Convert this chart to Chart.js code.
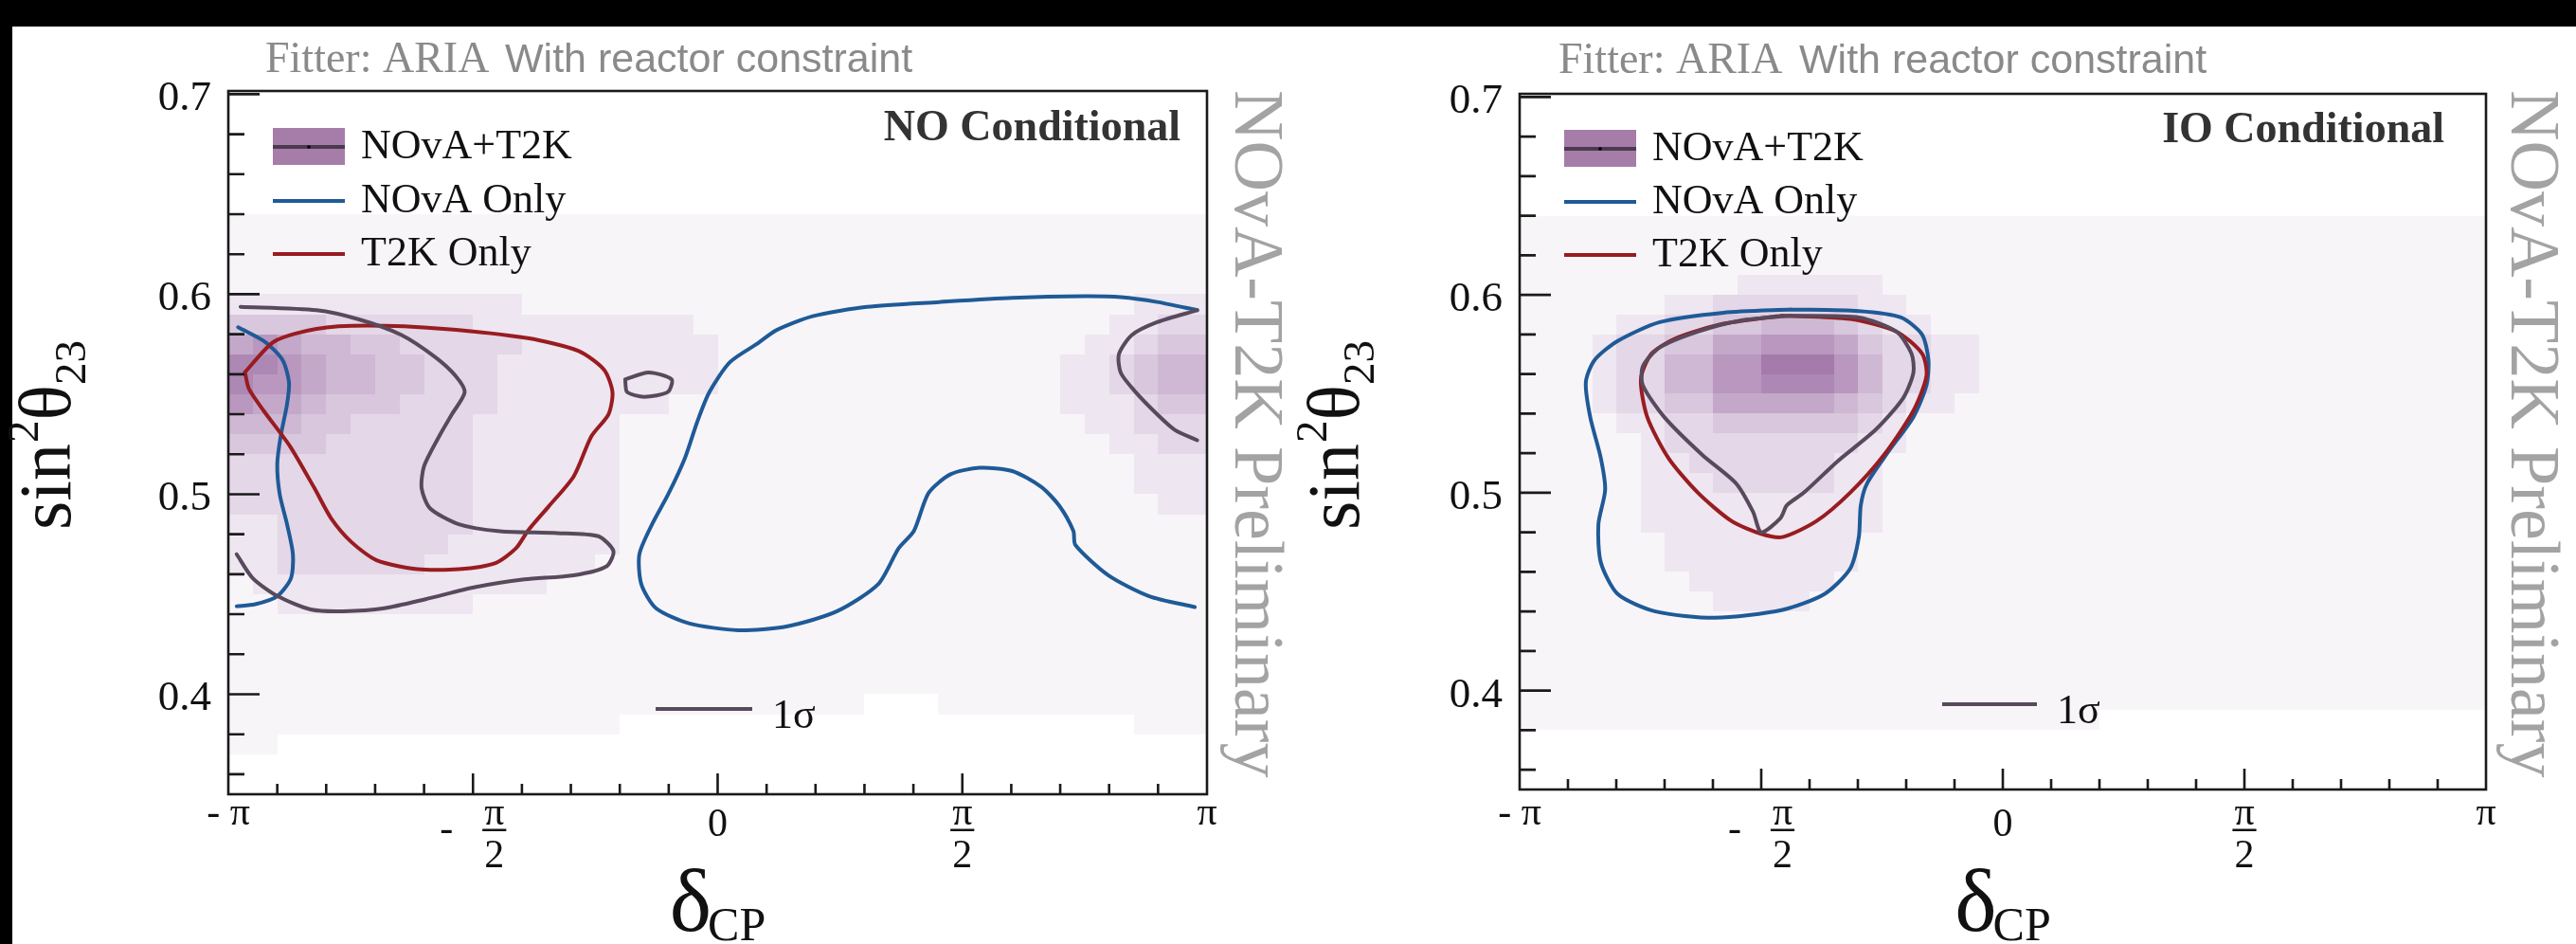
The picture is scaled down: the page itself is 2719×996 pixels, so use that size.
<!DOCTYPE html>
<html>
<head>
<meta charset="utf-8">
<script src="https://cdn.jsdelivr.net/npm/chart.js@4.4.1/dist/chart.umd.min.js"></script>
<style>
  html, body { margin: 0; padding: 0; background: #000; }
  #page { position: relative; width: 2719px; height: 996px; overflow: hidden; background: #000; }
  #paper { position: absolute; left: 13px; top: 28px; width: 2706px; height: 968px; background: #fff; }
  canvas { position: absolute; top: 0; }
  #noChart { left: 0; }
  #ioChart { left: 1360px; }
</style>
</head>
<body>
<div id="page">
  <div id="paper"></div>
  <canvas id="noChart" width="1360" height="996"></canvas>
  <canvas id="ioChart" width="1359" height="996"></canvas>
</div>
<script>
// --- Data ---
// x = delta_CP in units of pi, y = sin^2(theta_23)

const xTickValues = [-1, -0.5, 0, 0.5, 1];
const xTickLabels = ['- π', '- π/2', '0', 'π/2', 'π'];
const xMinorTicks = [-0.9, -0.8, -0.7, -0.6, -0.4, -0.3, -0.2, -0.1, 0.1, 0.2, 0.3, 0.4, 0.6, 0.7, 0.8, 0.9];
const yTickValues = [0.4, 0.5, 0.6, 0.7];
const yTickLabels = ['0.4', '0.5', '0.6', '0.7'];
const yMinorTicks = [0.36, 0.38, 0.42, 0.44, 0.46, 0.48, 0.52, 0.54, 0.56, 0.58, 0.62, 0.64, 0.66, 0.68];

const legendLabels = ['NOvA+T2K', 'NOvA Only', 'T2K Only'];
const sigmaLabel = '1σ';
const panelTitles = ['NO Conditional', 'IO Conditional'];

// posterior heat map: 40 bins of 0.05π across, rows of 0.01 from 0.70 down to 0.35
// each row is run-length coded as [shade level, number of bins]
const heatX0 = -1, heatDX = 0.05, heatCols = 40;
const heatY0 = 0.70, heatDY = 0.01;

const noHeatRows = [
  [[0,40]], [[0,40]], [[0,40]], [[0,40]], [[0,40]], [[0,40]],
  [[1,40]], [[1,40]], [[1,40]], [[1,40]],
  [[2,12],[1,25],[2,3]],
  [[4,4],[3,6],[2,9],[1,17],[2,2],[3,2]],
  [[6,1],[7,1],[6,1],[5,2],[4,2],[3,5],[2,8],[1,15],[2,2],[3,1],[4,2]],
  [[8,2],[7,1],[6,1],[5,2],[4,2],[3,3],[2,9],[1,14],[2,2],[3,1],[4,1],[5,2]],
  [[8,1],[7,2],[6,1],[5,2],[4,2],[3,3],[2,9],[1,14],[2,2],[3,1],[4,1],[5,2]],
  [[7,1],[6,2],[5,1],[4,3],[3,4],[2,7],[1,16],[2,3],[3,1],[4,2]],
  [[5,3],[4,2],[3,5],[2,6],[1,19],[2,2],[3,3]],
  [[4,4],[3,6],[2,6],[1,20],[2,2],[3,2]],
  [[3,10],[2,6],[1,21],[2,3]],
  [[3,10],[2,6],[1,21],[2,3]],
  [[3,10],[2,6],[1,22],[2,2]],
  [[2,2],[3,8],[2,6],[1,24]],
  [[2,2],[3,7],[2,7],[1,24]],
  [[2,2],[3,6],[2,7],[1,25]],
  [[1,1],[2,12],[1,27]],
  [[1,2],[2,8],[1,30]],
  [[1,40]], [[1,40]], [[1,40]], [[1,40]],
  [[1,26],[0,3],[1,11]],
  [[1,16],[0,21],[1,3]],
  [[1,2],[0,38]],
  [[0,40]], [[0,40]]
];

const ioHeatRows = [
  [[0,40]], [[0,40]], [[0,40]], [[0,40]], [[0,40]], [[0,40]],
  [[1,40]], [[1,40]], [[1,40]],
  [[1,9],[2,6],[1,25]],
  [[1,6],[2,2],[3,6],[2,2],[1,24]],
  [[1,4],[2,2],[3,2],[4,2],[5,3],[4,1],[3,1],[2,2],[1,23]],
  [[1,3],[2,1],[3,2],[4,2],[6,2],[7,3],[6,1],[4,1],[3,2],[2,2],[1,21]],
  [[1,3],[2,1],[3,2],[5,2],[7,2],[9,3],[7,1],[5,1],[3,2],[2,2],[1,21]],
  [[1,3],[2,1],[3,2],[5,2],[7,2],[8,3],[7,1],[5,1],[3,2],[2,2],[1,21]],
  [[1,3],[2,1],[3,2],[4,2],[6,5],[5,1],[4,1],[3,1],[2,2],[1,22]],
  [[1,4],[2,2],[3,2],[4,6],[3,1],[2,1],[1,24]],
  [[1,5],[2,1],[3,8],[2,2],[1,24]],
  [[1,5],[2,2],[3,6],[2,2],[1,25]],
  [[1,5],[2,3],[3,5],[2,2],[1,25]],
  [[1,5],[2,10],[1,25]],
  [[1,5],[2,10],[1,25]],
  [[1,6],[2,8],[1,26]],
  [[1,6],[2,8],[1,26]],
  [[1,7],[2,6],[1,27]],
  [[1,8],[2,4],[1,28]],
  [[1,40]], [[1,40]], [[1,40]], [[1,40]], [[1,40]],
  [[1,24],[0,16]],
  [[0,40]], [[0,40]], [[0,40]]
];

// NO conditional: 1 sigma contours
const noNovaLeft = [[-0.98,0.5835],[-0.924,0.576],[-0.889,0.567],[-0.876,0.556],[-0.88,0.545],[-0.893,0.529],
  [-0.9,0.515],[-0.895,0.5],[-0.88,0.485],[-0.868,0.47],[-0.872,0.458],[-0.9,0.449],[-0.945,0.445],[-0.983,0.444]];
const noNovaRight = [[0.98,0.592],[0.898,0.5961],[0.824,0.5985],[0.75,0.599],[0.602,0.5982],[0.453,0.5961],
  [0.305,0.5937],[0.194,0.589],[0.119,0.5819],[0.083,0.5756],[0.025,0.566],[-0.017,0.551],[-0.042,0.536],
  [-0.067,0.518],[-0.101,0.5],[-0.134,0.485],[-0.16,0.47],[-0.156,0.455],[-0.126,0.443],[-0.059,0.4355],
  [0.042,0.432],[0.143,0.434],[0.244,0.4415],[0.328,0.455],[0.37,0.473],[0.401,0.4816],[0.431,0.5006],
  [0.476,0.51],[0.535,0.5132],[0.602,0.5116],[0.661,0.5037],[0.698,0.4943],[0.727,0.4816],[0.731,0.4746],
  [0.798,0.4595],[0.882,0.449],[0.975,0.4436]];
const noT2K = [[-0.966,0.561],[-0.906,0.5764],[-0.82,0.5827],[-0.716,0.5843],[-0.56,0.5827],[-0.388,0.578],
  [-0.284,0.5716],[-0.232,0.5622],[-0.215,0.5511],[-0.223,0.54],[-0.258,0.529],[-0.294,0.509],[-0.345,0.494],
  [-0.387,0.482],[-0.412,0.473],[-0.454,0.4656],[-0.529,0.4625],[-0.613,0.4625],[-0.697,0.467],[-0.748,0.476],
  [-0.79,0.488],[-0.824,0.503],[-0.874,0.524],[-0.928,0.5418],[-0.958,0.5527],[-0.966,0.561]];
const noJointLeft = [[-0.975,0.5937],[-0.82,0.592],[-0.733,0.5874],[-0.647,0.5797],[-0.577,0.5685],[-0.535,0.559],
  [-0.517,0.551],[-0.543,0.54],[-0.569,0.529],[-0.6,0.514],[-0.605,0.503],[-0.588,0.493],[-0.529,0.485],
  [-0.445,0.4815],[-0.328,0.4806],[-0.244,0.479],[-0.213,0.4716],[-0.227,0.464],[-0.294,0.4595],[-0.395,0.4574],
  [-0.496,0.4535],[-0.597,0.4475],[-0.681,0.443],[-0.765,0.4415],[-0.832,0.4424],[-0.899,0.449],[-0.95,0.458],
  [-0.983,0.47]];
const noJointIsland = [[-0.189,0.5574],[-0.141,0.5609],[-0.094,0.5574],[-0.102,0.5511],[-0.15,0.5487],
  [-0.185,0.5511],[-0.189,0.5574]];
const noJointRight = [[0.98,0.592],[0.898,0.586],[0.846,0.5795],[0.82,0.57],[0.824,0.5606],[0.854,0.5511],
  [0.898,0.54],[0.935,0.532],[0.98,0.527]];

// IO conditional: 1 sigma contours
const ioNova = [[-0.438,0.5926],[-0.298,0.5918],[-0.211,0.5886],[-0.167,0.5799],[-0.154,0.567],[-0.158,0.5543],
  [-0.185,0.5383],[-0.237,0.5207],[-0.281,0.5047],[-0.294,0.4936],[-0.298,0.4776],[-0.316,0.4616],[-0.369,0.4488],
  [-0.456,0.4408],[-0.596,0.4368],[-0.719,0.44],[-0.797,0.4488],[-0.832,0.4648],[-0.837,0.484],[-0.823,0.5015],
  [-0.832,0.5175],[-0.854,0.5383],[-0.863,0.5559],[-0.845,0.567],[-0.797,0.5767],[-0.71,0.5862],[-0.578,0.591],
  [-0.438,0.5926]];
const ioT2K = [[-0.456,0.5895],[-0.316,0.5878],[-0.22,0.5814],[-0.167,0.5703],[-0.158,0.5591],[-0.185,0.5415],
  [-0.246,0.5191],[-0.316,0.5],[-0.386,0.4856],[-0.456,0.4776],[-0.5,0.4792],[-0.561,0.4856],[-0.631,0.5],
  [-0.692,0.5175],[-0.736,0.5383],[-0.749,0.5575],[-0.727,0.5703],[-0.675,0.5782],[-0.578,0.5854],[-0.456,0.5895]];
const ioJoint = [[-0.438,0.5895],[-0.298,0.5886],[-0.22,0.5814],[-0.189,0.5703],[-0.185,0.5607],[-0.206,0.5479],
  [-0.263,0.5319],[-0.342,0.5159],[-0.412,0.5],[-0.447,0.4936],[-0.46,0.4872],[-0.5,0.48],[-0.517,0.4904],
  [-0.552,0.5047],[-0.622,0.5191],[-0.701,0.5383],[-0.745,0.5543],[-0.745,0.5639],[-0.71,0.5734],[-0.631,0.5814],
  [-0.543,0.587],[-0.438,0.5895]];

// --- Styles ---
const novaColor = '#1f5a97';
const t2kColor = '#981c20';
const jointColor = '#584a5c';
const heatPalette = [null, '#f8f5f9', '#eee6f0', '#e4d7e7', '#d9c7dd', '#cfb8d3', '#c4a8c9', '#b997bf', '#ae88b5', '#a57bab'];
const serif = '"Liberation Serif", "DejaVu Serif", serif';
const sans = '"Liberation Sans", "DejaVu Sans", sans-serif';

// Heat map cells placed through the chart scales
function heatPlugin(rows) {
  return {
    id: 'heat',
    beforeDatasetsDraw(chart) {
      const { ctx, chartArea: a, scales: { x, y } } = chart;
      ctx.save();
      ctx.beginPath();
      ctx.rect(a.left, a.top, a.right - a.left, a.bottom - a.top);
      ctx.clip();
      rows.forEach((row, r) => {
        const yTop = heatY0 - r * heatDY;
        const py0 = Math.round(y.getPixelForValue(yTop));
        const py1 = Math.round(y.getPixelForValue(yTop - heatDY));
        let c = 0;
        row.forEach(([level, n]) => {
          if (level > 0) {
            const px0 = Math.round(x.getPixelForValue(heatX0 + c * heatDX));
            const px1 = Math.round(x.getPixelForValue(heatX0 + Math.min(c + n, heatCols) * heatDX));
            ctx.fillStyle = heatPalette[level];
            ctx.fillRect(px0, py0, px1 - px0, py1 - py0);
          }
          c += n;
        });
      });
      ctx.restore();
    }
  };
}

// ROOT-style frame with ticks pointing inward
const framePlugin = {
  id: 'frame',
  afterDatasetsDraw(chart) {
    const { ctx, chartArea: a, scales: { x, y } } = chart;
    ctx.save();
    ctx.strokeStyle = '#1a1a1a';
    ctx.lineWidth = 2.6;
    ctx.strokeRect(a.left, a.top, a.right - a.left, a.bottom - a.top);
    ctx.beginPath();
    yTickValues.forEach(v => {
      const py = y.getPixelForValue(v);
      ctx.moveTo(a.left, py); ctx.lineTo(a.left + 33, py);
    });
    yMinorTicks.forEach(v => {
      const py = y.getPixelForValue(v);
      ctx.moveTo(a.left, py); ctx.lineTo(a.left + 17, py);
    });
    xTickValues.forEach(v => {
      if (v <= -1 || v >= 1) return;
      const px = x.getPixelForValue(v);
      ctx.moveTo(px, a.bottom); ctx.lineTo(px, a.bottom - 22);
    });
    xMinorTicks.forEach(v => {
      const px = x.getPixelForValue(v);
      ctx.moveTo(px, a.bottom); ctx.lineTo(px, a.bottom - 11);
    });
    ctx.stroke();
    ctx.restore();
  }
};

function drawXLabel(ctx, label, px) {
  ctx.font = '42px ' + serif;
  ctx.fillStyle = '#111';
  if (label.includes('/')) {
    const neg = label.startsWith('-');
    const [num, den] = label.replace('-', '').trim().split('/');
    const fw = Math.max(ctx.measureText(num).width, ctx.measureText(den).width) + 4;
    const dashW = neg ? 45 : 0;
    const left = px - (dashW + fw) / 2;
    if (neg) {
      ctx.textAlign = 'left';
      ctx.fillText('-', left, 887);
    }
    const cx = left + dashW + fw / 2;
    ctx.textAlign = 'center';
    ctx.fillText(num, cx, 870);
    ctx.fillRect(cx - fw / 2, 874.5, fw, 2.5);
    ctx.fillText(den, cx, 915);
  } else {
    ctx.textAlign = 'center';
    ctx.fillText(label, px, label === '0' ? 882 : 870);
  }
}

function textPlugin(p) {
  return {
    id: 'texts',
    afterDraw(chart) {
      const { ctx, chartArea: a, scales: { x, y } } = chart;
      ctx.save();
      ctx.textBaseline = 'alphabetic';

      // header line
      ctx.fillStyle = '#8a8a8a';
      ctx.textAlign = 'left';
      ctx.font = '46px ' + serif;
      ctx.fillText('Fitter: ARIA', p.fitterX, p.headBase);
      ctx.font = '43px ' + sans;
      ctx.fillText('With reactor constraint', p.withX, p.headBase);

      // panel title
      ctx.fillStyle = '#333';
      ctx.textAlign = 'right';
      ctx.font = 'bold 46px ' + serif;
      ctx.fillText(p.title, p.titleRight, p.titleBase);

      // y tick labels
      ctx.fillStyle = '#111';
      ctx.font = '45px ' + serif;
      yTickValues.forEach((v, i) => {
        ctx.fillText(yTickLabels[i], a.left - 18, y.getPixelForValue(v) + 17);
      });

      // x tick labels
      xTickValues.forEach((v, i) => drawXLabel(ctx, xTickLabels[i], x.getPixelForValue(v)));

      // legend
      const lx0 = a.left + 47, lx1 = a.left + 123;
      ctx.fillStyle = '#a67ca9';
      ctx.fillRect(lx0, p.legY[0] - 20, lx1 - lx0, 39);
      ctx.lineWidth = 4;
      ['#4a3b4e', novaColor, t2kColor].forEach((col, i) => {
        ctx.strokeStyle = col;
        ctx.beginPath();
        ctx.moveTo(lx0, p.legY[i]); ctx.lineTo(lx1, p.legY[i]);
        ctx.stroke();
      });
      ctx.fillStyle = '#000';
      ctx.beginPath();
      ctx.arc((lx0 + lx1) / 2, p.legY[0], 1.8, 0, Math.PI * 2);
      ctx.fill();
      ctx.fillStyle = '#111';
      ctx.textAlign = 'left';
      ctx.font = '44px ' + serif;
      legendLabels.forEach((t, i) => ctx.fillText(t, a.left + 140, p.legY[i] + 12));

      // 1 sigma key
      ctx.strokeStyle = jointColor;
      ctx.beginPath();
      ctx.moveTo(p.sigX0, p.sigY); ctx.lineTo(p.sigX1, p.sigY);
      ctx.stroke();
      ctx.fillText(sigmaLabel, p.sigX1 + 21, p.sigY + 20);

      // preliminary tag, rotated
      ctx.save();
      ctx.fillStyle = '#a3a3a3';
      ctx.font = '74px ' + serif;
      ctx.translate(p.prelimX, 95);
      ctx.rotate(Math.PI / 2);
      ctx.fillText('NOvA-T2K Preliminary', 0, 0);
      ctx.restore();

      // y axis title: sin^2(theta)_23
      ctx.save();
      ctx.fillStyle = '#111';
      ctx.translate(74, 559);
      ctx.rotate(-Math.PI / 2);
      let cx = 0;
      ctx.font = '78px ' + serif;
      ctx.fillText('sin', cx, 0); cx += ctx.measureText('sin').width + 1;
      ctx.font = '47px ' + serif;
      ctx.fillText('2', cx, -34); cx += ctx.measureText('2').width;
      ctx.font = '78px ' + serif;
      ctx.fillText('θ', cx, 0); cx += ctx.measureText('θ').width;
      ctx.font = '47px ' + serif;
      ctx.fillText('23', cx, 16);
      ctx.restore();

      // x axis title: delta_CP
      const xc = (a.left + a.right) / 2;
      ctx.font = '94px ' + serif;
      const dW = ctx.measureText('δ').width;
      ctx.font = '50px ' + serif;
      const cW = ctx.measureText('CP').width;
      const start = xc - (dW + cW - 4) / 2;
      ctx.font = '94px ' + serif;
      ctx.fillText('δ', start, 982);
      ctx.font = '50px ' + serif;
      ctx.fillText('CP', start + dW - 4, 992);

      ctx.restore();
    }
  };
}

function contour(points, color) {
  return {
    data: points.map(([x, y]) => ({ x, y })),
    showLine: true,
    borderColor: color,
    borderWidth: 4,
    pointRadius: 0,
    tension: 0.25,
    fill: false,
    borderCapStyle: 'round',
    borderJoinStyle: 'round'
  };
}

function buildConfig(p) {
  return {
    type: 'scatter',
    data: { datasets: p.datasets },
    options: {
      responsive: false,
      animation: false,
      devicePixelRatio: 1,
      layout: { padding: p.padding },
      plugins: { legend: { display: false }, tooltip: { enabled: false }, title: { display: false } },
      scales: {
        x: {
          type: 'linear', min: -1, max: 1,
          grid: { display: false }, border: { display: false }, ticks: { display: false },
          afterFit: s => { s.height = 120; }
        },
        y: {
          type: 'linear', min: 0.35, max: 0.7016,
          grid: { display: false }, border: { display: false }, ticks: { display: false },
          afterFit: s => { s.width = p.yAxisWidth; }
        }
      }
    },
    plugins: [heatPlugin(p.heat), framePlugin, textPlugin(p)]
  };
}

new Chart(document.getElementById('noChart'), buildConfig({
  title: panelTitles[0],
  heat: noHeatRows,
  datasets: [
    contour(noJointLeft, jointColor), contour(noJointIsland, jointColor), contour(noJointRight, jointColor),
    contour(noT2K, t2kColor),
    contour(noNovaLeft, novaColor), contour(noNovaRight, novaColor)
  ],
  padding: { left: 0, top: 96, right: 86, bottom: 38 },
  yAxisWidth: 241,
  fitterX: 280, withX: 533, headBase: 76,
  titleRight: 1246, titleBase: 148,
  legY: [155, 212, 268],
  sigX0: 692, sigX1: 794, sigY: 748,
  prelimX: 1304
}));

new Chart(document.getElementById('ioChart'), buildConfig({
  title: panelTitles[1],
  heat: ioHeatRows,
  datasets: [
    contour(ioJoint, jointColor),
    contour(ioT2K, t2kColor),
    contour(ioNova, novaColor)
  ],
  padding: { left: 0, top: 99, right: 95, bottom: 43 },
  yAxisWidth: 244,
  fitterX: 285, withX: 539, headBase: 77,
  titleRight: 1220, titleBase: 150,
  legY: [157, 213, 269],
  sigX0: 690, sigX1: 790, sigY: 743,
  prelimX: 1291
}));
</script>
</body>
</html>
